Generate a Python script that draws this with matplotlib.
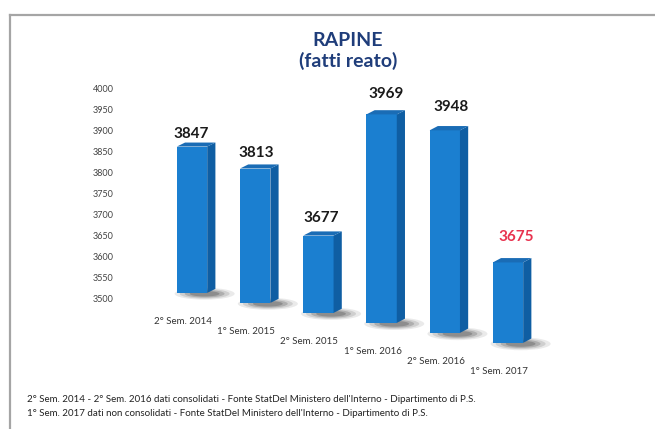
import matplotlib
matplotlib.use('Agg')
import numpy as np
import matplotlib.pyplot as plt
from matplotlib.transforms import Affine2D
from matplotlib.patches import Polygon, Ellipse
from matplotlib.lines import Line2D

periods = ["2° Sem. 2014", "1° Sem. 2015", "2° Sem. 2015",
           "1° Sem. 2016", "2° Sem. 2016", "1° Sem. 2017"]
robberies = [3847, 3813, 3677, 3969, 3948, 3675]
label_colors = ["#1a1a1a", "#1a1a1a", "#1a1a1a", "#1a1a1a", "#1a1a1a", "#e8334f"]
yticks = [3500, 3550, 3600, 3650, 3700, 3750, 3800, 3850, 3900, 3950, 4000]
notes = [
    "2° Sem. 2014 - 2° Sem. 2016 dati consolidati - Fonte StatDel Ministero dell'Interno - Dipartimento di P.S.",
    "1° Sem. 2017 dati non consolidati - Fonte StatDel Ministero dell'Interno - Dipartimento di P.S.",
]

plt.rcParams['font.family'] = ['Lato', 'DejaVu Sans']

front = "#1b7fd0"
side = "#0f5ea3"
top = "#1a6cb5"
base = 3500
width = 0.48
dx, dy = 0.13, 9.5   # depth of the fake 3d box

fig = plt.figure(figsize=(6.55, 4.29), dpi=100)
ax = fig.add_axes([122 / 655, 1 - 390 / 429, 478 / 655, 310 / 429])
ax.set_xlim(-1.108, 6.456)
ax.set_ylim(3284, 4019)


def bar_transform(i):
    # each bar sits a bit lower and a bit taller -> perspective look
    return (Affine2D().translate(0, -base).scale(1, 1 + 0.018 * i)
            .translate(0, base + 14.2 - 23.7 * i) + ax.transData)


for i, (v, c) in enumerate(zip(robberies, label_colors)):
    T = bar_transform(i)
    xl, xr = i - width / 2, i + width / 2

    # soft shadow at the foot of the bar
    for k, a in enumerate([0.10, 0.15, 0.22, 0.28]):
        ax.add_patch(Ellipse((i + 0.2, base - 2), 0.95 - 0.16 * k, 28 - 5 * k,
                             transform=T, color="#3a3a3a", alpha=a,
                             lw=0, zorder=1))

    ax.bar(i, v - base, bottom=base, width=width, color=front,
           transform=T, zorder=3)
    ax.add_patch(Polygon([(xr, base), (xr + dx, base + dy),
                          (xr + dx, v + dy), (xr, v)],
                         closed=True, color=side, lw=0,
                         transform=T, zorder=3))
    ax.add_patch(Polygon([(xl, v), (xl + dx, v + dy),
                          (xr + dx, v + dy), (xr, v)],
                         closed=True, color=top, lw=0,
                         transform=T, zorder=3))

    ax.annotate(str(v), xy=(i, v), xycoords=T,
                xytext=(1.8 * i - 1, 6 + 2.5 * i), textcoords='offset pixels',
                ha='center', va='bottom', fontsize=11, fontweight='bold',
                color=c)
    ax.annotate(periods[i], xy=(i, base), xycoords=T,
                xytext=(-9, -29), textcoords='offset pixels',
                ha='center', va='center', fontsize=7, color="#333333")

ax.set_yticks(yticks)
ax.set_xticks([])
ax.tick_params(axis='y', length=0, pad=6, labelsize=6.5, labelcolor="#444444")
for s in ax.spines.values():
    s.set_visible(False)
ax.patch.set_alpha(0)

fig.text(0.531, 1 - 40 / 429, "RAPINE", ha='center', va='center',
         fontsize=14, fontweight='bold', color="#1f3d7a")
fig.text(0.531, 1 - 61 / 429, "(fatti reato)", ha='center', va='center',
         fontsize=14, fontweight='bold', color="#1f3d7a")

for k, note in enumerate(notes):
    fig.text(27 / 655, 1 - (400 + 14 * k) / 429, note, ha='left',
             va='center', fontsize=7, color="#222222")

# frame around the chart
fig.add_artist(Line2D([9.5 / 655, 9.5 / 655], [0, 1 - 15 / 429],
                      color="#a5a5a5", lw=1.6))
fig.add_artist(Line2D([9.5 / 655, 1], [1 - 15 / 429, 1 - 15 / 429],
                      color="#a5a5a5", lw=1.6))

plt.savefig("out.png", dpi=100)
